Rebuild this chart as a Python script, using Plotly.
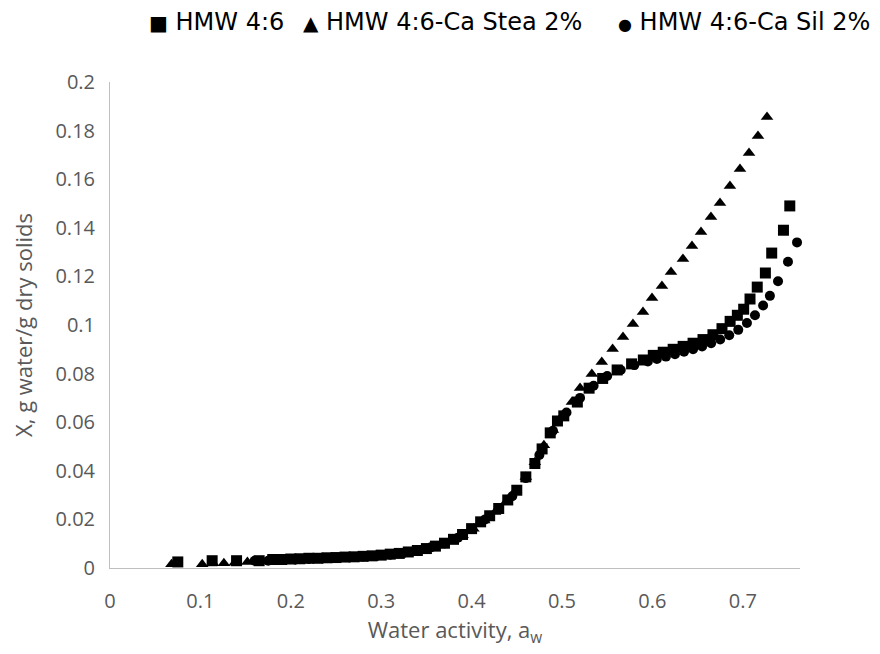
import plotly.graph_objects as go

# HMW 4:6 (squares)
aw_hmw = [0.075, 0.113, 0.14, 0.165, 0.18, 0.19, 0.2, 0.21, 0.22, 0.23, 0.24, 0.25, 0.26, 0.27, 0.28,
          0.29, 0.3, 0.31, 0.32, 0.33, 0.34, 0.35, 0.36, 0.37, 0.38, 0.39, 0.40, 0.41, 0.42, 0.43,
          0.44, 0.45, 0.46, 0.47, 0.478, 0.487, 0.495, 0.502, 0.517, 0.53, 0.545, 0.561, 0.577, 0.59,
          0.601, 0.612, 0.623, 0.634, 0.645, 0.656, 0.667, 0.677, 0.686, 0.694, 0.701, 0.708, 0.716,
          0.725, 0.732, 0.745, 0.752]
x_hmw = [0.0025, 0.003, 0.003, 0.003, 0.0035, 0.0035, 0.0037, 0.0038, 0.004, 0.004, 0.0042, 0.0043,
         0.0045, 0.0046, 0.0048, 0.005, 0.0053, 0.0057, 0.006, 0.0066, 0.0072, 0.008, 0.009, 0.0102,
         0.0118, 0.0138, 0.0162, 0.019, 0.0215, 0.0245, 0.028, 0.032, 0.0375, 0.043, 0.049, 0.0556,
         0.0605, 0.0626, 0.0683, 0.074, 0.078, 0.0815, 0.084, 0.0856, 0.0875, 0.0888, 0.0900, 0.0912,
         0.0925, 0.0940, 0.0960, 0.0985, 0.1015, 0.104, 0.1065, 0.1107, 0.1156, 0.1214, 0.1296, 0.139,
         0.149]

# HMW 4:6-Ca Stea 2% (triangles)
aw_stea = [0.068, 0.102, 0.114, 0.126, 0.138, 0.152, 0.168, 0.185, 0.2, 0.215, 0.23, 0.245, 0.26,
           0.275, 0.29, 0.305, 0.32, 0.335, 0.35, 0.365, 0.378, 0.39, 0.402, 0.414, 0.426, 0.438,
           0.449, 0.46, 0.47, 0.48, 0.49, 0.5, 0.511, 0.52, 0.533, 0.544, 0.556, 0.5675, 0.5785,
           0.5896, 0.5996, 0.6106, 0.6206, 0.6338, 0.6438, 0.6538, 0.6648, 0.6748, 0.6858, 0.6969,
           0.7069, 0.7168, 0.7268]
x_stea = [0.0015, 0.0015, 0.002, 0.002, 0.0022, 0.0025, 0.0028, 0.003, 0.0032, 0.0035, 0.0037, 0.004,
          0.0042, 0.0045, 0.0048, 0.0052, 0.0058, 0.0066, 0.0078, 0.0093, 0.0112, 0.0135, 0.0162,
          0.0195, 0.023, 0.0272, 0.032, 0.0375, 0.0435, 0.0505, 0.0568, 0.0625, 0.0683, 0.0741,
          0.0798, 0.0848, 0.0901, 0.0951, 0.1004, 0.1053, 0.1111, 0.116, 0.1218, 0.1272, 0.1325,
          0.1383, 0.1444, 0.1502, 0.1572, 0.1642, 0.1708, 0.1778, 0.1856]

# HMW 4:6-Ca Sil 2% (circles)
aw_sil = [0.16, 0.175, 0.19, 0.205, 0.22, 0.235, 0.25, 0.265, 0.28, 0.295, 0.31, 0.325, 0.34, 0.355,
          0.37, 0.385, 0.4, 0.415, 0.43, 0.445, 0.46, 0.475, 0.49, 0.505, 0.52, 0.535, 0.55, 0.565,
          0.58, 0.595, 0.605, 0.615, 0.625, 0.635, 0.645, 0.655, 0.665, 0.675, 0.685, 0.695, 0.7046,
          0.7135, 0.7225, 0.730, 0.739, 0.750, 0.760]
x_sil = [0.003, 0.003, 0.0033, 0.0035, 0.0037, 0.004, 0.0042, 0.0044, 0.0047, 0.005, 0.0055, 0.0062,
         0.0072, 0.0085, 0.0102, 0.0125, 0.016, 0.02, 0.0245, 0.0295, 0.037, 0.0465, 0.0565, 0.064,
         0.07, 0.075, 0.079, 0.0815, 0.0835, 0.085, 0.086, 0.087, 0.088, 0.089, 0.0900, 0.0912, 0.0925,
         0.094, 0.0958, 0.098, 0.1008, 0.104, 0.108, 0.112, 0.118, 0.126, 0.134]

series_names = ["HMW 4:6", "HMW 4:6-Ca Stea 2%", "HMW 4:6-Ca Sil 2%"]
legend_glyphs = ["■", "▲", "●"]
x_ticks = [0, 0.1, 0.2, 0.3, 0.4, 0.5, 0.6, 0.7]
y_ticks = [0, 0.02, 0.04, 0.06, 0.08, 0.1, 0.12, 0.14, 0.16, 0.18, 0.2]

fig = go.Figure()
fig.add_trace(go.Scatter(x=aw_hmw, y=x_hmw, mode="markers", name=series_names[0], cliponaxis=False,
                         marker=dict(symbol="square", size=11, color="black")))
fig.add_trace(go.Scatter(x=aw_stea, y=x_stea, mode="markers", name=series_names[1], cliponaxis=False,
                         marker=dict(symbol="triangle-up", size=11, color="black")))
fig.add_trace(go.Scatter(x=aw_sil, y=x_sil, mode="markers", name=series_names[2], cliponaxis=False,
                         marker=dict(symbol="circle", size=10, color="black")))

# Legend row (Excel style: glyph + series name), drawn as text above the plot
glyph_sizes = [20, 20, 16]
leg_x = [0.0536, 0.4819, 1.1043]
leg_anchor = ["left", "center", "right"]
for name, glyph, gs, lx, anc in zip(series_names, legend_glyphs, glyph_sizes, leg_x, leg_anchor):
    fig.add_annotation(
        xref="paper", yref="paper", x=lx, y=1.1235, xanchor=anc, yanchor="middle",
        text='<span style="font-size:%dpx">%s</span> %s' % (gs, glyph, name),
        showarrow=False, font=dict(family="DejaVu Sans", size=24, color="black"))

axis_font = dict(family="Open Sans", size=20, color="#595959")
title_font = dict(family="Open Sans", size=22, color="#595959")
fig.update_layout(
    width=872, height=646,
    margin=dict(l=102, r=80, t=74, b=86),
    paper_bgcolor="white", plot_bgcolor="white",
    showlegend=False,
    xaxis=dict(range=[0, 0.7633], tickvals=x_ticks, ticktext=[str(v) for v in x_ticks],
               showgrid=False, zeroline=False, showline=True, linecolor="#bfbfbf", linewidth=1,
               ticks="", tickfont=axis_font, ticklabelstandoff=15, automargin=False,
               title=dict(text="Water activity, a<sub>w</sub>", font=title_font, standoff=0)),
    yaxis=dict(range=[0, 0.2], tickvals=y_ticks, ticktext=[("%g" % v) for v in y_ticks],
               showgrid=False, zeroline=False, showline=True, linecolor="#bfbfbf", linewidth=1,
               ticks="", tickfont=axis_font, ticklabelstandoff=10, automargin=False,
               title=dict(text="X, g water/g dry solids", font=title_font, standoff=16)),
)

fig.write_html("out.html")
